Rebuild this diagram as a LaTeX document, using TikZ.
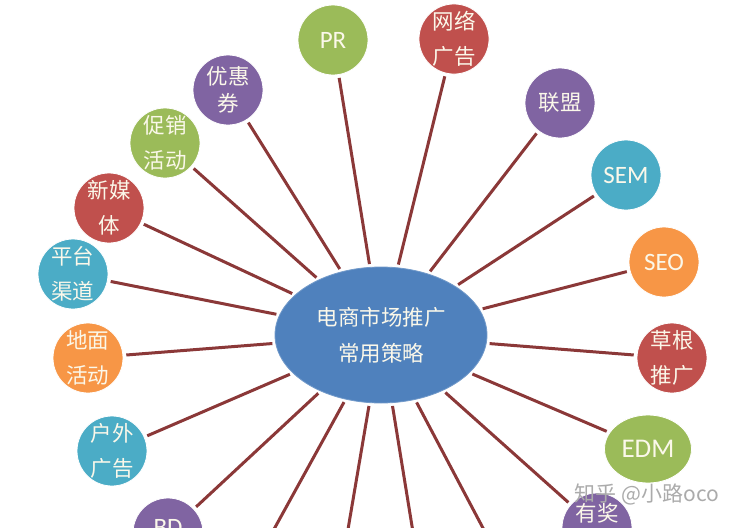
\documentclass[tikz,border=0pt]{standalone}
\usepackage{fontspec}
\setmainfont{Carlito}
\newfontfamily\cjk{Noto Sans CJK SC}
\usetikzlibrary{shapes.geometric}
\definecolor{ogreen}{HTML}{9BBB59}
\definecolor{ored}{HTML}{C0504D}
\definecolor{opurple}{HTML}{8064A2}
\definecolor{oteal}{HTML}{4BACC6}
\definecolor{oorange}{HTML}{F79646}
\definecolor{oblue}{HTML}{4F81BD}
\definecolor{linkc}{HTML}{8B3838}
\definecolor{txtc}{HTML}{FBF8EA}
\definecolor{wmc}{HTML}{ABABAB}
\begin{document}
\begin{tikzpicture}[x=1pt,y=-1pt,
  bubble/.style={circle,minimum size=70pt,inner sep=0pt,draw=white,line width=0.8pt,
    text=txtc,align=center,font=\cjk\fontsize{21.5}{35}\selectfont},
  latin/.style={font=\fontsize{25}{28}\selectfont},
  hub/.style={ellipse,fill=oblue,draw=oblue!80!white,line width=0.8pt,minimum width=212pt,
    minimum height=136pt,inner sep=0pt,text=txtc,align=center,
    font=\cjk\fontsize{21.5}{36}\selectfont},
  link/.style={draw=linkc,line width=3pt,shorten <=3pt,shorten >=3pt},
  watermark/.style={font=\cjk\fontsize{21}{21}\selectfont,text=wmc}]
\useasboundingbox (0,0) rectangle (740,528);
\clip (0,0) rectangle (740,528);
\fill[white] (0,0) rectangle (740,528);

\node[hub] (hub) at (381,335) {电商市场推广\\常用策略};

\node[bubble,fill=ogreen,latin] (pr) at (333,40) {PR};
\node[bubble,fill=ored] (wl) at (454,39) {网络\\广告};
\node[bubble,fill=opurple] (lm) at (560,103) {联盟};
\node[bubble,fill=oteal,latin] (sem) at (626,175) {SEM};
\node[bubble,fill=oorange,latin] (seo) at (664,262) {SEO};
\node[bubble,fill=ored] (cg) at (672,358) {草根\\推广};
\node[bubble,ellipse,fill=ogreen,font=\fontsize{27}{30}\selectfont,minimum width=87pt,minimum height=68pt] (edm) at (648,449) {EDM};
\node[bubble,fill=opurple] (yj) at (597,528) {\raisebox{13pt}[0.8em][0.2em]{有奖}};
\node[bubble,fill=opurple,latin] (bd) at (168,533) {\raisebox{6pt}[0.65em][0pt]{BD}};
\node[bubble,fill=oteal] (hw) at (112,451) {户外\\广告};
\node[bubble,fill=oorange] (dm) at (88,358) {地面\\活动};
\node[bubble,fill=oteal] (pt) at (73,274) {平台\\渠道};
\node[bubble,fill=ored] (xm) at (109,208) {新媒\\体};
\node[bubble,fill=ogreen] (cx) at (165,143) {促销\\活动};
\node[bubble,fill=opurple,font=\cjk\fontsize{21.5}{27}\selectfont] (yh) at (228,90) {优惠\\券};

\coordinate (b1) at (235,600);
\coordinate (b2) at (336,600);
\coordinate (b3) at (424,600);
\coordinate (b4) at (521,600);

\foreach \n in {pr,wl,lm,sem,seo,cg,edm,yj,bd,hw,dm,pt,xm,cx,yh,b1,b2,b3,b4}
  \draw[link] (hub) -- (\n);

\node[watermark] (wm) at (647,494) {知乎 @小路oco};
\end{tikzpicture}
\end{document}
